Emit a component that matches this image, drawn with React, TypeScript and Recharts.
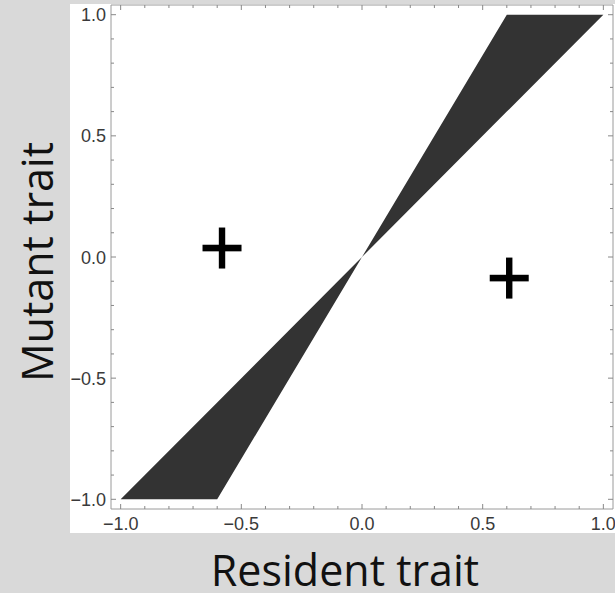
import React from "react";
import {
  ComposedChart,
  Area,
  Scatter,
  XAxis,
  YAxis,
  Label,
} from "recharts";

// wedge where the mutant cannot invade: [lower, upper] mutant trait per resident trait
const wedge = [
  { x: -1, range: [-1, -1] },
  { x: -0.6, range: [-1, -0.6] },
  { x: 0, range: [0, 0] },
  { x: 0.6, range: [0.6, 1] },
  { x: 1, range: [1, 1] },
];

// "+" markers (regions where invasion succeeds)
const plusMarks = [
  { x: -0.58, y: 0.037 },
  { x: 0.61, y: -0.087 },
];

const ticks = [
  -1, -0.9, -0.8, -0.7, -0.6, -0.5, -0.4, -0.3, -0.2, -0.1, 0, 0.1, 0.2, 0.3,
  0.4, 0.5, 0.6, 0.7, 0.8, 0.9, 1,
];
const majorTicks = [-1, -0.5, 0, 0.5, 1];

const domain: [number, number] = [-1.04, 1.04];
const frame = "#9a9a9a";
const tickColor = "#888";
const labelColor = "#3a3a3a";
const tickFont = "'Liberation Sans', Arial, sans-serif";
const titleFont = "'Open Sans', Lato, sans-serif";

const isMajor = (v: number) => majorTicks.some((m) => Math.abs(m - v) < 1e-6);
const fmt = (v: number) => v.toFixed(1).replace("-", "\u2212");

const BottomTick = ({ x, y, payload }: any) => {
  const major = isMajor(payload.value);
  return (
    <g>
      <line x1={x} y1={y} x2={x} y2={y - (major ? 5 : 3)} stroke={tickColor} />
      {major && (
        <text x={x} y={y + 21} textAnchor="middle" fontSize={18} fill={labelColor} fontFamily={tickFont}>
          {fmt(payload.value)}
        </text>
      )}
    </g>
  );
};

const TopTick = ({ x, y, payload }: any) => {
  const major = isMajor(payload.value);
  return <line x1={x} y1={y} x2={x} y2={y + (major ? 5 : 3)} stroke={tickColor} />;
};

const LeftTick = ({ x, y, payload }: any) => {
  const major = isMajor(payload.value);
  return (
    <g>
      <line x1={x} y1={y} x2={x + (major ? 5 : 3)} y2={y} stroke={tickColor} />
      {major && (
        <text x={x - 5} y={y + 6.5} textAnchor="end" fontSize={18} fill={labelColor} fontFamily={tickFont}>
          {fmt(payload.value)}
        </text>
      )}
    </g>
  );
};

const RightTick = ({ x, y, payload }: any) => {
  const major = isMajor(payload.value);
  return <line x1={x} y1={y} x2={x - (major ? 5 : 3)} y2={y} stroke={tickColor} />;
};

const PlusShape = ({ cx, cy }: any) => (
  <g fill="#000">
    <rect x={cx - 19.5} y={cy - 3.3} width={39} height={6.6} />
    <rect x={cx - 3.2} y={cy - 20.5} width={6.4} height={41} />
  </g>
);

const XTitle = ({ viewBox }: any) => (
  <text
    x={viewBox.x + viewBox.width / 2 - 17}
    y={viewBox.y + 77}
    textAnchor="middle"
    fontSize={43}
    fill="#111"
    fontFamily={titleFont}
  >
    Resident trait
  </text>
);

const YTitle = ({ viewBox }: any) => {
  const tx = viewBox.x + viewBox.width - 58;
  const ty = viewBox.y + viewBox.height / 2 + 5;
  return (
    <text
      x={tx}
      y={ty}
      transform={`rotate(-90, ${tx}, ${ty})`}
      textAnchor="middle"
      fontSize={43}
      fill="#111"
      fontFamily={titleFont}
    >
      Mutant trait
    </text>
  );
};

export default function App() {
  return (
    <div style={{ position: "absolute", left: 0, top: 0, width: 615, height: 593, background: "#d9d9d9" }}>
      <div style={{ position: "absolute", left: 70, top: 4, width: 545, height: 529, background: "#fff" }} />
      <div style={{ position: "absolute", left: 0, top: 0 }}>
        <ComposedChart
          width={615}
          height={593}
          data={wedge}
          margin={{ top: 0, right: 0, bottom: 0, left: 0 }}
        >
          <XAxis
            dataKey="x"
            type="number"
            domain={domain}
            allowDataOverflow
            ticks={ticks}
            interval={0}
            height={84}
            tickSize={0}
            tickMargin={0}
            tickLine={false}
            axisLine={{ stroke: frame }}
            tick={<BottomTick />}
          >
            <Label content={<XTitle />} />
          </XAxis>
          <XAxis
            xAxisId="top"
            orientation="top"
            dataKey="x"
            type="number"
            domain={domain}
            allowDataOverflow
            ticks={ticks}
            interval={0}
            height={5}
            tickSize={0}
            tickMargin={0}
            tickLine={false}
            axisLine={{ stroke: frame }}
            tick={<TopTick />}
          />
          <YAxis
            type="number"
            domain={domain}
            allowDataOverflow
            ticks={ticks}
            interval={0}
            width={111}
            tickSize={0}
            tickMargin={0}
            tickLine={false}
            axisLine={{ stroke: frame }}
            tick={<LeftTick />}
          >
            <Label content={<YTitle />} />
          </YAxis>
          <YAxis
            yAxisId="right"
            orientation="right"
            type="number"
            domain={domain}
            allowDataOverflow
            ticks={ticks}
            interval={0}
            width={2}
            tickSize={0}
            tickMargin={0}
            tickLine={false}
            axisLine={{ stroke: frame }}
            tick={<RightTick />}
          />
          <Area
            dataKey="range"
            type="linear"
            fill="#333333"
            fillOpacity={1}
            stroke="none"
            isAnimationActive={false}
            activeDot={false}
          />
          <Scatter data={plusMarks} dataKey="y" shape={<PlusShape />} isAnimationActive={false} />
        </ComposedChart>
      </div>
    </div>
  );
}
